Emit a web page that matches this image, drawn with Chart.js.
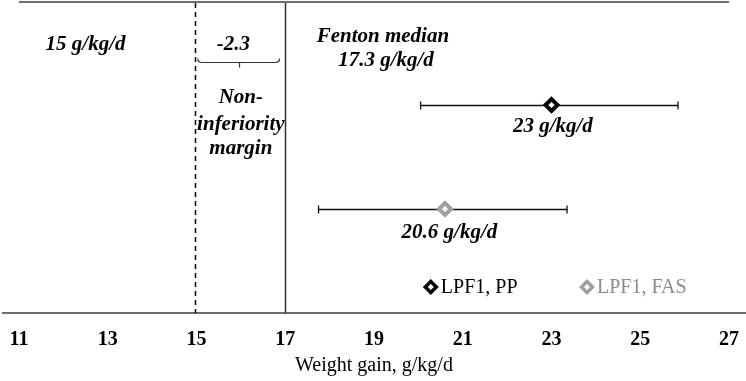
<!DOCTYPE html>
<html>
<head>
<meta charset="utf-8">
<title>Weight gain, g/kg/d</title>
<script src="https://cdn.jsdelivr.net/npm/chart.js@4.4.1/dist/chart.umd.min.js"></script>
<style>
  html, body { margin: 0; padding: 0; background: #fff; }
  #wrap { width: 746px; height: 381px; }
</style>
</head>
<body>
<div id="wrap"><canvas id="chart"></canvas></div>
<script>
// data
const seriesNames = ['LPF1, PP', 'LPF1, FAS'];
const medians = [23, 20.6];
const ciLow = [20.05, 17.75];
const ciHigh = [25.85, 23.35];
const rows = [2, 1];
const medianLabels = ['23 g/kg/d', '20.6 g/kg/d'];
const xTicks = [11, 13, 15, 17, 19, 21, 23, 25, 27];
const marginLine = 15;
const fentonLine = 17;

const seriesColors = ['#000000', '#a0a0a0'];
const serif = '"Liberation Serif", "Times New Roman", serif';

// free text on the plot, placed in axis units
const notes = [
    { text: '15 g/kg/d', x: 12.5, y: 2.58 },
    { text: '-2.3', x: 15.83, y: 2.58 },
    { text: 'Non-', x: 16.0, y: 2.07 },
    { text: 'inferiority', x: 16.0, y: 1.81 },
    { text: 'margin', x: 16.0, y: 1.58 },
    { text: 'Fenton median', x: 19.2, y: 2.66 },
    { text: '17.3 g/kg/d', x: 19.27, y: 2.43 },
    { text: medianLabels[0], x: 23.03, y: 1.79 },
    { text: medianLabels[1], x: 20.7, y: 0.77 }
];
const bracket = { from: 15.03, to: 16.87, mid: 15.97, y: 2.41 };
const legendSpots = [{ x: 20.28, y: 0.25 }, { x: 23.8, y: 0.25 }];

function diamond(ctx, cx, cy, r, color, lw) {
    ctx.beginPath();
    ctx.moveTo(cx - r, cy);
    ctx.lineTo(cx, cy - r);
    ctx.lineTo(cx + r, cy);
    ctx.lineTo(cx, cy + r);
    ctx.closePath();
    ctx.fillStyle = '#fff';
    ctx.fill();
    ctx.lineWidth = lw;
    ctx.strokeStyle = color;
    ctx.stroke();
}

const forestPlugin = {
    id: 'forest',
    beforeDatasetsDraw(chart) {
        const { ctx, chartArea, scales: { x, y } } = chart;
        ctx.save();

        // rule across the top
        ctx.strokeStyle = '#6e6e6e';
        ctx.lineWidth = 2;
        ctx.beginPath();
        ctx.moveTo(x.getPixelForValue(xTicks[0]), chartArea.top + 1);
        ctx.lineTo(x.getPixelForValue(xTicks[xTicks.length - 1]), chartArea.top + 1);
        ctx.stroke();

        // non-inferiority limit (dashed) and Fenton median (solid)
        const xm = Math.round(x.getPixelForValue(marginLine)) - 0.5;
        ctx.strokeStyle = '#000';
        ctx.lineWidth = 1.5;
        ctx.setLineDash([5, 4]);
        ctx.beginPath();
        ctx.moveTo(xm, chartArea.top + 2);
        ctx.lineTo(xm, chartArea.bottom);
        ctx.stroke();
        ctx.setLineDash([]);

        const xf = Math.round(x.getPixelForValue(fentonLine)) + 0.5;
        ctx.strokeStyle = '#333';
        ctx.beginPath();
        ctx.moveTo(xf, chartArea.top + 2);
        ctx.lineTo(xf, chartArea.bottom);
        ctx.stroke();

        // confidence intervals
        ctx.strokeStyle = '#111';
        ctx.lineWidth = 1.3;
        rows.forEach((r, i) => {
            const py = Math.round(y.getPixelForValue(r)) + 0.5;
            const x0 = x.getPixelForValue(ciLow[i]);
            const x1 = x.getPixelForValue(ciHigh[i]);
            ctx.beginPath();
            ctx.moveTo(x0, py);
            ctx.lineTo(x1, py);
            ctx.moveTo(x0, py - 4);
            ctx.lineTo(x0, py + 4);
            ctx.moveTo(x1, py - 4);
            ctx.lineTo(x1, py + 4);
            ctx.stroke();
        });
        ctx.restore();
    },
    afterDraw(chart) {
        const { ctx, scales: { x, y } } = chart;
        ctx.save();

        ctx.fillStyle = '#000';
        ctx.font = 'italic bold 21px ' + serif;
        ctx.textAlign = 'center';
        ctx.textBaseline = 'middle';
        notes.forEach(n => {
            ctx.fillText(n.text, x.getPixelForValue(n.x), y.getPixelForValue(n.y));
        });

        // bracket under -2.3
        const bx0 = x.getPixelForValue(bracket.from);
        const bx1 = x.getPixelForValue(bracket.to);
        const bxm = x.getPixelForValue(bracket.mid);
        const by = Math.round(y.getPixelForValue(bracket.y)) + 0.5;
        ctx.strokeStyle = '#333';
        ctx.lineWidth = 1.2;
        ctx.beginPath();
        ctx.moveTo(bx0, by - 4);
        ctx.quadraticCurveTo(bx0, by, bx0 + 4, by);
        ctx.lineTo(bx1 - 4, by);
        ctx.quadraticCurveTo(bx1, by, bx1, by - 4);
        ctx.moveTo(bxm, by);
        ctx.lineTo(bxm, by + 5);
        ctx.stroke();

        // legend inside the plot
        ctx.font = '20px ' + serif;
        ctx.textAlign = 'left';
        legendSpots.forEach((s, i) => {
            const px = x.getPixelForValue(s.x);
            const py = y.getPixelForValue(s.y);
            diamond(ctx, px, py, 5.5, seriesColors[i], 3.5);
            ctx.fillStyle = i === 0 ? '#000' : '#8c8c8c';
            ctx.fillText(seriesNames[i], px + 10, py + 1);
        });
        ctx.restore();
    }
};

const datasets = seriesNames.map((name, i) => ({
    label: name,
    data: [{ x: medians[i], y: rows[i] }],
    pointStyle: 'rectRot',
    pointRadius: 6,
    pointBorderWidth: 4,
    pointBackgroundColor: '#fff',
    pointBorderColor: seriesColors[i],
    borderColor: seriesColors[i],
    showLine: false
}));

new Chart(document.getElementById('chart'), {
    type: 'scatter',
    data: { datasets },
    options: {
        responsive: true,
        maintainAspectRatio: false,
        animation: false,
        events: [],
        layout: { autoPadding: false, padding: { left: 3, right: 1, top: 1, bottom: -3 } },
        plugins: {
            legend: { display: false },
            tooltip: { enabled: false }
        },
        scales: {
            x: {
                type: 'linear',
                min: 10.64,
                max: 27.36,
                afterBuildTicks: scale => {
                    scale.ticks = xTicks.map(v => ({ value: v }));
                },
                afterFit: scale => {
                    scale.height = 71;
                    scale.paddingLeft = 0;
                    scale.paddingRight = 0;
                },
                grid: { display: false, drawTicks: false },
                border: { display: true, color: '#6e6e6e', width: 2 },
                ticks: {
                    color: '#000',
                    padding: 17,
                    font: { family: serif, size: 20, weight: 'bold', lineHeight: 1 }
                },
                title: {
                    display: true,
                    text: 'Weight gain, g/kg/d',
                    color: '#000',
                    padding: { top: 0, bottom: 8 },
                    font: { family: serif, size: 20, lineHeight: 1 }
                }
            },
            y: {
                type: 'linear',
                min: 0,
                max: 3,
                display: false
            }
        }
    },
    plugins: [forestPlugin]
});
</script>
</body>
</html>
